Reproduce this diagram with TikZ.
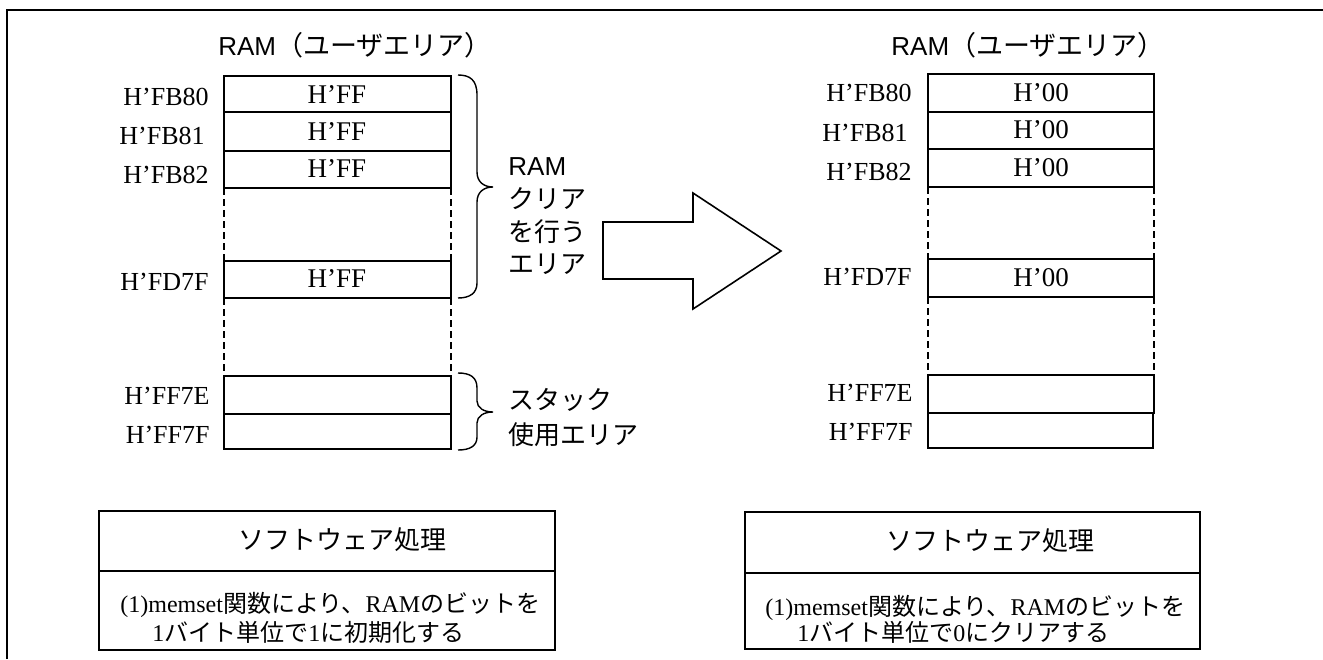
\documentclass[tikz,border=0pt]{standalone}
\usepackage{fontspec}
\setmainfont{Liberation Serif}
\newfontfamily\lsans{Liberation Sans}
\newfontfamily\jpf{Noto Sans CJK JP}
\begin{document}
\begin{tikzpicture}[x=0.5pt,y=-0.5pt,
  frameline/.style={line width=1pt},
  cellline/.style={line width=0.7pt},
  dashline/.style={line width=0.7pt, dash pattern=on 3.5pt off 2pt},
  addr/.style={anchor=east, inner sep=0pt, font=\fontsize{13}{15}\selectfont},
  val/.style={inner sep=0pt, font=\fontsize{13.5}{15}\selectfont},
  side/.style={anchor=west, inner sep=0pt, font=\fontsize{13}{15}\selectfont\jpf},
  ttl/.style={inner sep=0pt},
  body/.style={anchor=west, inner sep=0pt, font=\fontsize{12}{14}\selectfont},
  bracepath/.style={line width=0.7pt},
  bigarrow/.style={line width=0.8pt}]
\useasboundingbox (0,0) rectangle (1323,659);
% outer frame
\draw[frameline] (7,659) -- (7,10) -- (1323,10);

% ---------- titles ----------
\node[ttl] (tl) at (355,45) {{\lsans\fontsize{13}{15}\selectfont RAM}{\jpf\fontsize{13.5}{15}\selectfont （ユーザエリア）}};
\node[ttl] (tr) at (1028,45) {{\lsans\fontsize{13}{15}\selectfont RAM}{\jpf\fontsize{13.5}{15}\selectfont （ユーザエリア）}};

% ---------- left column ----------
\draw[cellline] (224,76) rectangle (451,112);
\draw[cellline] (224,112) rectangle (451,151);
\draw[cellline] (224,151) rectangle (451,188);
\draw[cellline] (224,261) rectangle (451,298);
\draw[cellline] (224,376) rectangle (451,414);
\draw[cellline] (224,414) rectangle (451,449);
\draw[dashline] (224,188) -- (224,261) (451,188) -- (451,261);
\draw[dashline] (224,298) -- (224,376) (451,298) -- (451,376);

\node[val] (lv1) at (337,95) {H’FF};
\node[val] (lv2) at (337,132) {H’FF};
\node[val] (lv3) at (337,169) {H’FF};
\node[val] (lv4) at (337,279) {H’FF};

\node[addr] (la1) at (209,97) {H’FB80};
\node[addr] (la2) at (205,136) {H’FB81};
\node[addr] (la3) at (209,175) {H’FB82};
\node[addr] (la4) at (209,282) {H’FD7F};
\node[addr] (la5) at (210,396) {H’FF7E};
\node[addr] (la6) at (210,435) {H’FF7F};

% braces
\draw[bracepath] (458,75) .. controls (470,75) and (477,80) .. (477,95) -- (477,172)
  .. controls (477,182) and (484,187) .. (493,187)
  .. controls (484,187) and (477,192) .. (477,202) -- (477,283)
  .. controls (477,293) and (470,298) .. (458,298);
\draw[bracepath] (458,373) .. controls (470,373) and (477,377) .. (477,388) -- (477,401)
  .. controls (477,408) and (484,412) .. (493,412)
  .. controls (484,412) and (477,416) .. (477,423) -- (477,437)
  .. controls (477,446) and (470,450) .. (458,450);

\node[side] (s1) at (508,167) {\lsans\fontsize{13}{15}\selectfont RAM};
\node[side] (s2) at (508,199) {クリア};
\node[side] (s3) at (508,232) {を行う};
\node[side] (s4) at (508,264) {エリア};
\node[side] (s5) at (508,400) {スタック};
\node[side] (s6) at (508,435) {使用エリア};

% big arrow
\draw[bigarrow] (603,222) -- (693,222) -- (693,193) -- (781,251) -- (693,309) -- (693,279) -- (603,279) -- cycle;

% ---------- right column ----------
\draw[cellline] (928,74) rectangle (1154,112);
\draw[cellline] (928,112) rectangle (1154,149);
\draw[cellline] (928,149) rectangle (1154,187);
\draw[cellline] (928,259) rectangle (1154,297);
\draw[cellline] (928,375) rectangle (1154,413);
\draw[cellline] (928,413) rectangle (1153,448);
\draw[dashline] (928,187) -- (928,259) (1154,187) -- (1154,259);
\draw[dashline] (928,297) -- (928,375) (1154,297) -- (1154,375);

\node[val] (rv1) at (1041,93) {H’00};
\node[val] (rv2) at (1041,130) {H’00};
\node[val] (rv3) at (1041,168) {H’00};
\node[val] (rv4) at (1041,278) {H’00};

\node[addr] (ra1) at (912,93) {H’FB80};
\node[addr] (ra2) at (908,133) {H’FB81};
\node[addr] (ra3) at (912,172) {H’FB82};
\node[addr] (ra4) at (912,277) {H’FD7F};
\node[addr] (ra5) at (913,393) {H’FF7E};
\node[addr] (ra6) at (913,432) {H’FF7F};

% ---------- bottom boxes ----------
\draw[cellline] (99,511) rectangle (555,650);
\draw[cellline] (99,571) -- (555,571);
\node[ttl] (bl) at (342,540) {\jpf\fontsize{13}{15}\selectfont ソフトウェア処理};
\node[body] (bl1) at (120,605) {(1)memset{\jpf 関数により、}RAM{\jpf のビットを}};
\node[body] (bl2) at (152,632) {1{\jpf バイト単位で}1{\jpf に初期化する}};

\draw[cellline] (745,512) rectangle (1200,649);
\draw[cellline] (745,573) -- (1200,573);
\node[ttl] (br) at (990,541) {\jpf\fontsize{13}{15}\selectfont ソフトウェア処理};
\node[body] (br1) at (765,608) {(1)memset{\jpf 関数により、}RAM{\jpf のビットを}};
\node[body] (br2) at (797,632) {1{\jpf バイト単位で}0{\jpf にクリアする}};
\end{tikzpicture}
\end{document}
